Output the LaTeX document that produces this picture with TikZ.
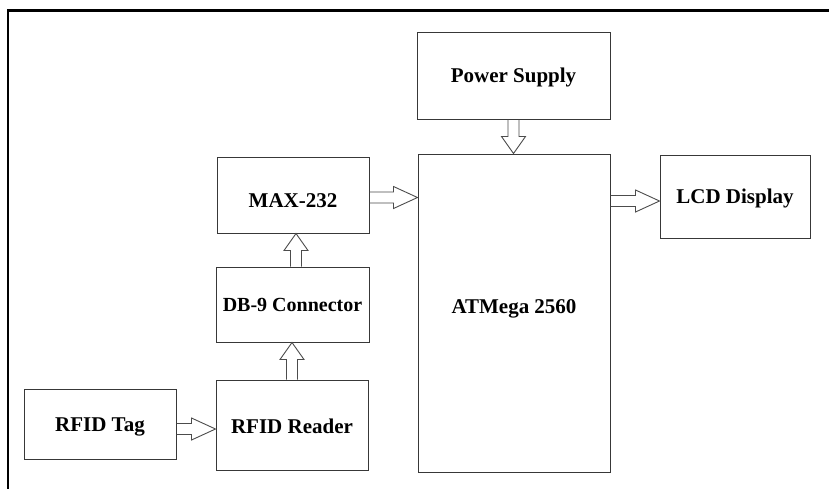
\documentclass[tikz,border=0pt]{standalone}
\usepackage{fontspec}
\setmainfont{Liberation Serif}
\usetikzlibrary{calc}
\tikzset{
  blk/.style={draw=black!78, line width=1pt, fill=white, inner sep=0pt,
    font=\fontsize{21}{24}\selectfont\bfseries, text height=14pt, text depth=0pt, align=center},
  blockarrow/.style={draw=black!70, line width=0.9pt, line join=miter},
  frameline/.style={draw=black, line width=2.6pt}
}
\newcommand{\hblock}[2]{\draw[blockarrow] let \p1=#1, \p2=#2 in
  (\x1,\y1+5.5pt) -- (\x2-24pt,\y1+5.5pt) -- (\x2-24pt,\y1+11pt) -- (\x2,\y1)
  -- (\x2-24pt,\y1-11pt) -- (\x2-24pt,\y1-5.5pt) -- (\x1,\y1-5.5pt);}
\newcommand{\vblock}[2]{\draw[blockarrow] let \p1=#1, \p2=#2, \n1={ifthenelse(\y2>\y1,1,-1)} in
  (\x1-5.5pt,\y1) -- (\x1-5.5pt,{\y2-(\n1)*17pt}) -- (\x1-12pt,{\y2-(\n1)*17pt}) -- (\x1,\y2)
  -- (\x1+12pt,{\y2-(\n1)*17pt}) -- (\x1+5.5pt,{\y2-(\n1)*17pt}) -- (\x1+5.5pt,\y1);}
\begin{document}
\begin{tikzpicture}[x=1pt,y=-1pt]
  \useasboundingbox (0,0) rectangle (829,488);
  \clip (0,0) rectangle (829,488);
  \fill[white] (0,0) rectangle (829,488);
  \draw[frameline] (8,495) -- (8,10.5) -- (840,10.5);

  \node[blk, minimum width=193pt, minimum height=87pt] (ps) at (513.5,75.5) {Power Supply};
  \node[blk, minimum width=192pt, minimum height=318pt, text depth=14pt] (atm) at (514,313) {ATMega 2560};
  \node[blk, minimum width=150pt, minimum height=83pt] (lcd) at (735,196.5) {LCD Display};
  \node[blk, minimum width=152pt, minimum height=76pt, text height=24pt] (max) at (293,195) {MAX-232};
  \node[blk, minimum width=153pt, minimum height=75pt, font=\fontsize{20}{24}\selectfont\bfseries] (db9) at (292.5,304.5) {DB-9 Connector};
  \node[blk, minimum width=152pt, minimum height=90pt, text height=16pt] (rdr) at (292,425) {RFID Reader};
  \node[blk, minimum width=152pt, minimum height=70pt] (tag) at (100,424) {RFID Tag};

  \hblock{([yshift=-2.5pt]max.east)}{(atm.west)}
  \hblock{($(atm.east |- lcd.west)+(0,-4.5pt)$)}{(lcd.west)}
  \hblock{([yshift=-5pt]tag.east)}{(rdr.west)}
  \vblock{(ps.south)}{(atm.north)}
  \vblock{([xshift=3.5pt]db9.north)}{(max.south)}
  \vblock{(rdr.north)}{(db9.south)}
\end{tikzpicture}
\end{document}
